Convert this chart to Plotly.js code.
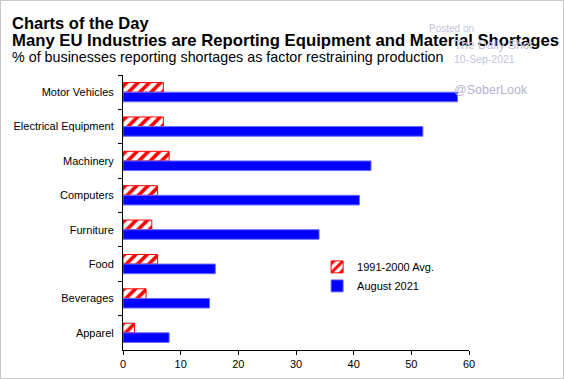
<!DOCTYPE html>
<html><head><meta charset="utf-8">
<script src="https://cdn.plot.ly/plotly-3.0.1.min.js"></script>
<style>html,body{margin:0;padding:0;background:#fff}#c{width:562px;height:377px;border:1px solid #c8c8c8}</style>
</head><body><div id="c"></div>
<script>
const categories = ["Motor Vehicles","Electrical Equipment","Machinery","Computers","Furniture","Food","Beverages","Apparel"];
const avg1991_2000 = [7,7,8,6,5,6,4,2];
const aug2021 = [58,52,43,41,34,16,15,8];
const xTicks = [0,10,20,30,40,50,60];

const font = "Liberation Sans, Arial, sans-serif";
const traces = [
  {type:"bar", orientation:"h", name:"1991-2000 Avg.", y:categories, x:avg1991_2000,
   marker:{color:"#ffffff", line:{color:"#ff0000", width:1},
     pattern:{shape:"/", fgcolor:"#ff0000", bgcolor:"#ffffff", size:8, solidity:0.45, fillmode:"replace"}}},
  {type:"bar", orientation:"h", name:"August 2021", y:categories, x:aug2021,
   marker:{color:"#0000ff", line:{color:"#6a6aff", width:1}}}
];
const wm = "#c4c4dc";
const layout = {
  width:562, height:377,
  margin:{l:122, r:94, t:74, b:28},
  paper_bgcolor:"#fff", plot_bgcolor:"#fff",
  font:{family:font, size:11, color:"#000"},
  barmode:"group", bargap:0.44, bargroupgap:0,
  showlegend:true,
  legend:{x:0.561, y:0.355, xanchor:"left", yanchor:"top", bgcolor:"rgba(0,0,0,0)",
    font:{size:11, color:"#000"}, itemwidth:30, tracegroupgap:6},
  xaxis:{range:[0,60], tickvals:xTicks, ticks:"outside", ticklen:4, tickcolor:"#000",
    showline:true, linecolor:"#000", linewidth:1, showgrid:false, zeroline:false,
    fixedrange:true, tickfont:{size:11}},
  yaxis:{type:"category", autorange:"reversed", ticks:"outside", tickson:"boundaries", ticklen:4,
    tickcolor:"#000", showline:true, linecolor:"#000", linewidth:1, showgrid:false,
    ticklabelstandoff:6, tickfont:{size:11}},
  annotations:[
    {xref:"paper", yref:"paper", x:-0.327, y:1.19, xanchor:"left", yanchor:"middle", showarrow:false,
     text:"<b>Charts of the Day</b>", font:{size:16.5, family:font, color:"#000"}},
    {xref:"paper", yref:"paper", x:-0.327, y:1.125, xanchor:"left", yanchor:"middle", showarrow:false,
     text:"<b>Many EU Industries are Reporting Equipment and Material Shortages</b>", font:{size:16.7, family:font, color:"#000"}},
    {xref:"paper", yref:"paper", x:-0.327, y:1.066, xanchor:"left", yanchor:"middle", showarrow:false,
     text:"% of businesses reporting shortages as factor restraining production", font:{size:14.3, family:font, color:"#000"}},
    {xref:"paper", yref:"paper", x:0.879, y:1.17, xanchor:"left", yanchor:"middle", showarrow:false,
     text:"Posted on", font:{size:10, family:font, color:wm}},
    {xref:"paper", yref:"paper", x:0.951, y:1.11, xanchor:"left", yanchor:"middle", showarrow:false,
     text:"The Daily Shot", font:{size:12, family:font, color:wm}},
    {xref:"paper", yref:"paper", x:0.951, y:1.057, xanchor:"left", yanchor:"middle", showarrow:false,
     text:"10-Sep-2021", font:{size:10.5, family:font, color:wm}},
    {xref:"paper", yref:"paper", x:0.951, y:0.947, xanchor:"left", yanchor:"middle", showarrow:false,
     text:"@SoberLook", font:{size:12.5, family:font, color:"#b4b4d2"}}
  ]
};
Plotly.newPlot("c", traces, layout, {displayModeBar:false, staticPlot:true});
</script></body></html>
